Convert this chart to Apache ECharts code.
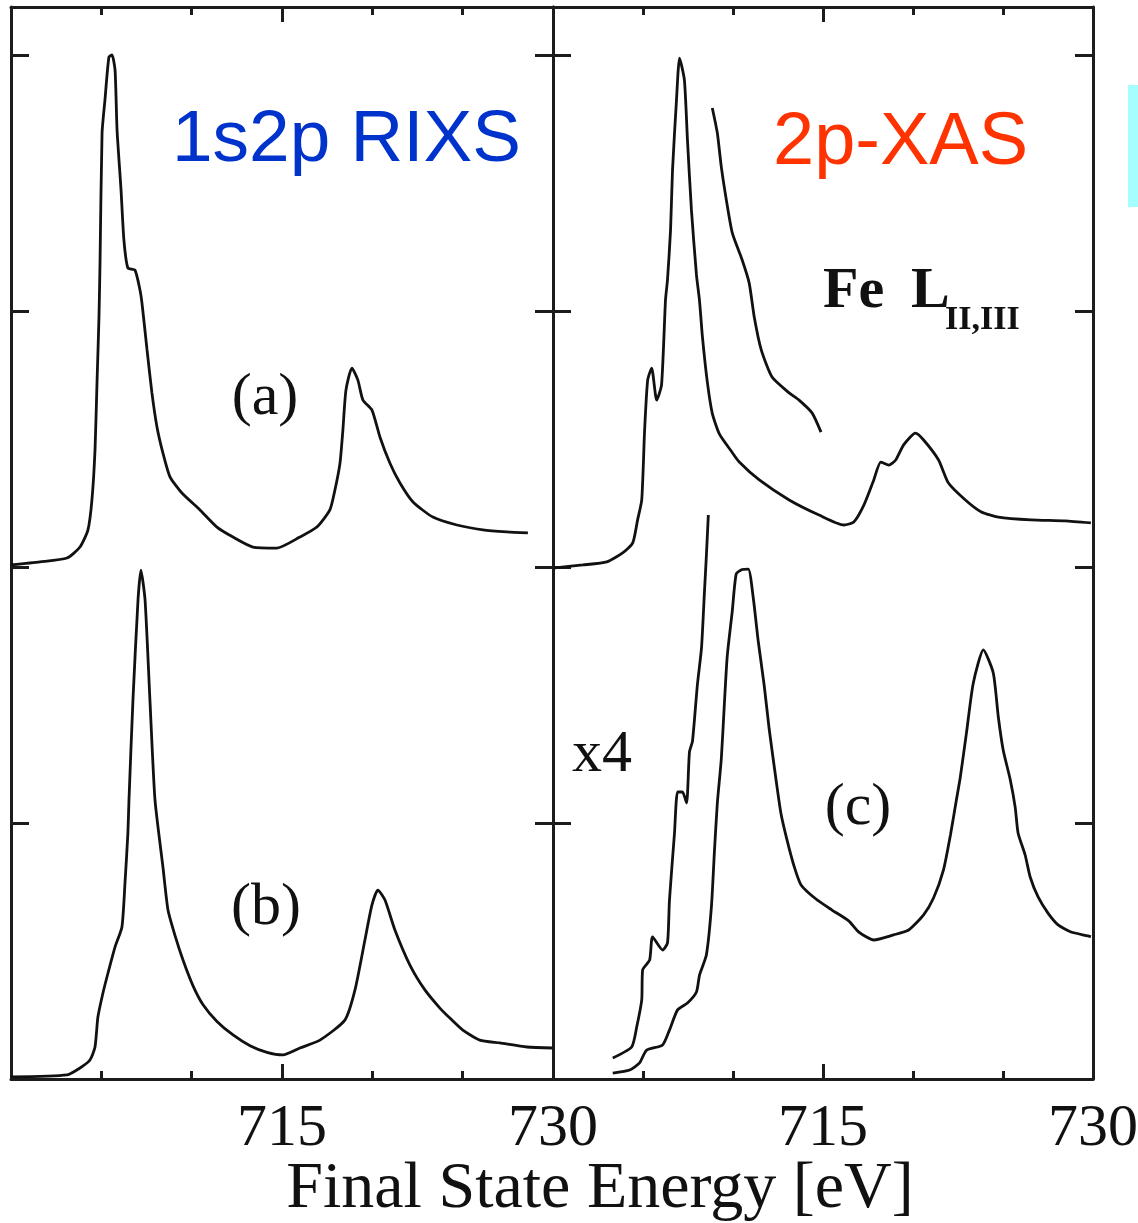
<!DOCTYPE html>
<html>
<head>
<meta charset="utf-8">
<script src="https://cdn.jsdelivr.net/npm/echarts@6/dist/echarts.min.js"></script>
<style>
html,body{margin:0;padding:0;background:#fff;}
#chart{width:1138px;height:1223px;}
</style>
</head>
<body>
<div id="chart"></div>
<script>
// ---- Data (energy in eV, intensity in arbitrary units) ----
// Left column: 1s2p RIXS
const energyA = [700.00,701.60,703.10,703.82,704.26,704.48,704.65,704.76,704.87,704.93,705.04,705.20,705.42,705.59,705.76,705.87,706.09,706.25,706.47,706.86,707.14,707.25,707.53,707.80,708.08,708.41,708.80,709.46,710.46,711.40,712.29,713.39,714.72,715.99,716.93,717.65,717.93,718.21,718.37,718.54,718.87,719.20,719.48,719.98,720.42,720.97,721.53,722.25,723.35,724.68,726.12,727.45,728.61];
const intensityA = [2.008,2.020,2.035,2.078,2.145,2.262,2.457,2.719,2.977,3.199,3.695,3.824,3.992,4.000,3.941,3.707,3.473,3.277,3.168,3.160,3.082,3.031,2.848,2.680,2.547,2.445,2.352,2.289,2.223,2.156,2.117,2.078,2.074,2.117,2.156,2.223,2.301,2.406,2.535,2.691,2.777,2.730,2.652,2.613,2.508,2.406,2.328,2.254,2.195,2.164,2.145,2.137,2.133];

const energyB = [700.00,703.10,703.82,704.37,704.65,704.81,705.09,705.37,705.76,706.14,706.31,706.47,706.53,706.75,707.03,707.19,707.42,707.69,707.97,708.41,708.69,709.08,709.52,710.07,710.63,711.40,712.29,713.23,714.17,715.05,715.99,717.10,718.48,719.04,719.59,719.98,720.31,720.70,721.25,722.08,722.91,723.74,724.29,725.01,725.95,727.06,728.56,730.00];
const intensityB = [0.008,0.016,0.043,0.074,0.125,0.242,0.336,0.414,0.516,0.594,0.766,0.961,1.090,1.480,1.871,1.988,1.871,1.480,1.090,0.828,0.660,0.560,0.465,0.365,0.290,0.225,0.172,0.130,0.104,0.094,0.121,0.152,0.230,0.348,0.543,0.680,0.738,0.699,0.582,0.445,0.348,0.277,0.238,0.191,0.152,0.141,0.125,0.121];

// Right column: 2p-XAS, Fe L_II,III
const energyXasTop = [700.00,701.66,702.99,703.87,704.43,704.70,704.93,705.09,705.26,705.48,705.76,706.03,706.25,706.36,706.53,706.64,706.86,707.03,707.30,707.47,707.69,707.97,708.14,708.30,708.58,708.85,709.24,709.91,710.35,711.46,713.12,714.78,716.16,716.71,717.27,717.82,718.21,718.65,719.04,719.48,720.14,720.59,721.42,721.97,722.91,723.80,724.74,726.56,728.44,729.88];
const intensityXasTop = [1.996,2.008,2.020,2.055,2.094,2.184,2.262,2.535,2.730,2.777,2.652,2.711,3.043,3.121,3.316,3.551,3.824,3.988,3.902,3.668,3.395,3.141,3.040,2.900,2.719,2.600,2.520,2.452,2.410,2.340,2.262,2.203,2.164,2.176,2.242,2.340,2.410,2.398,2.418,2.477,2.523,2.496,2.418,2.328,2.262,2.215,2.195,2.184,2.180,2.172];

const energyXasZoom = [708.85,709.13,709.35,709.63,709.96,710.51,710.90,711.18,711.57,712.17,713.12,713.67,714.39,714.89];
const intensityXasZoom = [3.793,3.695,3.563,3.434,3.305,3.199,3.109,2.977,2.848,2.742,2.680,2.652,2.602,2.527];

const energyC = [703.32,704.26,704.81,705.20,706.09,706.47,706.92,707.47,707.97,708.14,708.52,708.80,708.97,709.13,709.35,709.52,709.68,709.96,710.18,710.51,710.85,711.12,711.40,711.73,712.01,712.40,712.67,713.00,713.39,713.78,714.61,715.50,716.44,716.99,717.82,718.93,719.76,720.59,721.14,721.69,722.08,722.41,722.63,722.97,723.35,723.91,724.46,724.74,725.01,725.40,725.68,725.84,726.23,726.51,726.95,727.50,728.06,728.78,729.72,729.88];
const intensityC = [0.023,0.035,0.063,0.113,0.133,0.191,0.270,0.297,0.340,0.406,0.484,0.672,0.891,1.078,1.250,1.465,1.652,1.828,1.973,1.990,1.992,1.883,1.711,1.539,1.367,1.164,1.035,0.934,0.832,0.758,0.703,0.660,0.617,0.574,0.543,0.563,0.582,0.641,0.707,0.816,0.953,1.090,1.180,1.352,1.547,1.676,1.586,1.414,1.285,1.170,1.060,0.960,0.875,0.789,0.711,0.648,0.602,0.574,0.559,0.555];

const energyCx4 = [703.32,704.37,704.65,704.93,704.98,705.37,705.53,706.09,706.36,706.47,706.75,706.92,707.19,707.42,707.58,707.75,708.02,708.25,708.41,708.52,708.63];
const intensityCx4 = [0.082,0.125,0.203,0.309,0.426,0.465,0.555,0.504,0.531,0.699,0.961,1.121,1.121,1.078,1.277,1.320,1.539,1.684,1.898,2.043,2.203];

const xTickLabels = ['715', '730'];

// ---- Chart ----
const INK = '#1c1c1c';
const SERIF = '"Liberation Serif", "DejaVu Serif", serif';
const pair = (xs, ys) => xs.map((x, i) => [x, ys[i]]);

function xAxisFor(gridIndex, position, withLabels) {
  return {
    type: 'value', gridIndex, position, min: 700, max: 730, interval: 15,
    axisLine: { show: true, onZero: false, lineStyle: { color: INK, width: 3 } },
    axisTick: { show: true, inside: true, length: 15, lineStyle: { color: INK, width: 3 } },
    minorTick: { show: true, splitNumber: 3, length: 8, lineStyle: { color: INK, width: 3 } },
    splitLine: { show: false }, minorSplitLine: { show: false },
    axisLabel: {
      show: withLabels, margin: 20, color: '#111', fontFamily: SERIF, fontSize: 60,
      formatter: v => (xTickLabels.indexOf(String(v)) >= 0 ? String(v) : '')
    }
  };
}
function yAxisFor(gridIndex, position) {
  return {
    type: 'value', gridIndex, position, min: 0, max: 4.1875, interval: 1,
    axisLine: { show: true, onZero: false, lineStyle: { color: INK, width: 3 } },
    axisTick: { show: true, inside: true, length: 18, lineStyle: { color: INK, width: 3 } },
    axisLabel: { show: false }, splitLine: { show: false }
  };
}
function curve(name, xAxisIndex, yAxisIndex, data) {
  return {
    name, type: 'line', xAxisIndex, yAxisIndex, data, showSymbol: false, smooth: 0.2,
    lineStyle: { color: '#111', width: 2.8 }, animation: false, z: 3
  };
}

const chart = echarts.init(document.getElementById('chart'), null, { renderer: 'canvas' });
chart.setOption({
  backgroundColor: '#fff',
  animation: false,
  grid: [
    { left: 11, top: 7, width: 542, height: 1072, outerBoundsMode: 'none' },
    { left: 553, top: 7, width: 540, height: 1072, outerBoundsMode: 'none' }
  ],
  xAxis: [
    xAxisFor(0, 'bottom', true), xAxisFor(0, 'top', false),
    xAxisFor(1, 'bottom', true), xAxisFor(1, 'top', false)
  ],
  yAxis: [
    yAxisFor(0, 'left'), yAxisFor(0, 'right'),
    yAxisFor(1, 'left'), yAxisFor(1, 'right')
  ],
  series: [
    curve('(a)', 0, 0, pair(energyA, intensityA)),
    curve('(b)', 0, 0, pair(energyB, intensityB)),
    curve('Fe L', 2, 2, pair(energyXasTop, intensityXasTop)),
    curve('Fe L zoom', 2, 2, pair(energyXasZoom, intensityXasZoom)),
    curve('(c)', 2, 2, pair(energyC, intensityC)),
    curve('(c) x4', 2, 2, pair(energyCx4, intensityCx4))
  ],
  graphic: [
    { type: 'rect', shape: { x: 1128, y: 85, width: 10, height: 122 }, style: { fill: '#a6ffff' }, silent: true },
    { type: 'text', x: 172, y: 141, style: { text: '1s2p RIXS', fill: '#0033cc', font: '73px "Liberation Sans", Arial, sans-serif', textAlign: 'left', textVerticalAlign: 'middle' } },
    { type: 'text', x: 773, y: 144, style: { text: '2p-XAS', fill: '#ff3300', font: '74px "Liberation Sans", Arial, sans-serif', textAlign: 'left', textVerticalAlign: 'middle' } },
    { type: 'text', x: 265, y: 398, style: { text: '(a)', fill: '#111', font: '60px ' + SERIF, textAlign: 'center', textVerticalAlign: 'middle' } },
    { type: 'text', x: 266, y: 908, style: { text: '(b)', fill: '#111', font: '60px ' + SERIF, textAlign: 'center', textVerticalAlign: 'middle' } },
    { type: 'text', x: 858, y: 808, style: { text: '(c)', fill: '#111', font: '60px ' + SERIF, textAlign: 'center', textVerticalAlign: 'middle' } },
    { type: 'text', x: 602, y: 755, style: { text: 'x4', fill: '#111', font: '60px ' + SERIF, textAlign: 'center', textVerticalAlign: 'middle' } },
    { type: 'text', x: 823, y: 292, style: { text: 'Fe', fill: '#111', font: 'bold 58px ' + SERIF, textAlign: 'left', textVerticalAlign: 'middle' } },
    { type: 'text', x: 911, y: 292, style: { text: 'L', fill: '#111', font: 'bold 58px ' + SERIF, textAlign: 'left', textVerticalAlign: 'middle' } },
    { type: 'text', x: 945, y: 320, style: { text: 'II,III', fill: '#111', font: 'bold 34px ' + SERIF, textAlign: 'left', textVerticalAlign: 'middle' } },
    { type: 'text', x: 600, y: 1190, style: { text: 'Final State Energy [eV]', fill: '#111', font: '66px ' + SERIF, textAlign: 'center', textVerticalAlign: 'middle' } }
  ]
});
</script>
</body>
</html>
